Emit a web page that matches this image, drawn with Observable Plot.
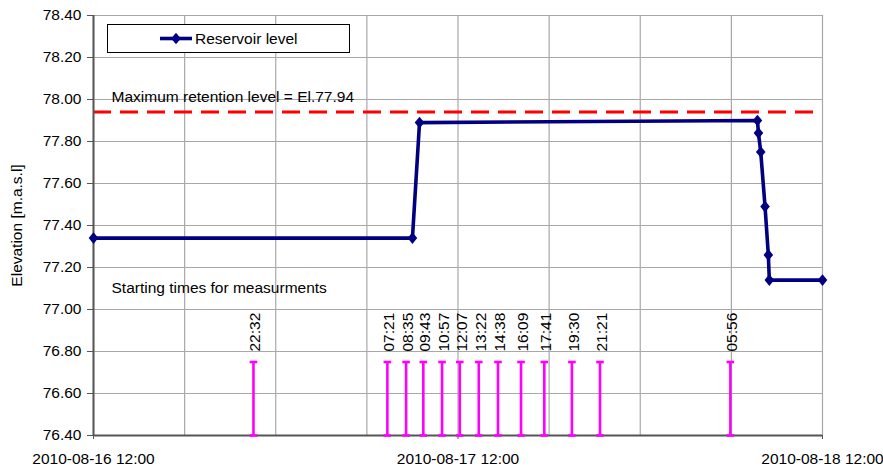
<!DOCTYPE html>
<html><head><meta charset="utf-8">
<script src="https://cdn.jsdelivr.net/npm/d3@7"></script>
<script src="https://cdn.jsdelivr.net/npm/@observablehq/plot@0.6"></script>
<style>
html,body{margin:0;padding:0;background:#fff;}
#chart{position:relative;width:883px;height:468px;}
</style></head><body><div id="chart"></div>
<script>
// ---- data ----
const levelTimes = ["2010-08-16T12:00","2010-08-17T09:00","2010-08-17T09:28","2010-08-18T07:43","2010-08-18T07:47","2010-08-18T07:56","2010-08-18T08:13","2010-08-18T08:26","2010-08-18T08:30","2010-08-18T12:00"];
const levelValues = [77.34, 77.34, 77.89, 77.90, 77.84, 77.75, 77.49, 77.26, 77.14, 77.14];
const measureTimes = ["2010-08-16T22:32","2010-08-17T07:21","2010-08-17T08:35","2010-08-17T09:43","2010-08-17T10:57","2010-08-17T12:07","2010-08-17T13:22","2010-08-17T14:38","2010-08-17T16:09","2010-08-17T17:41","2010-08-17T19:30","2010-08-17T21:21","2010-08-18T05:56"];
const measureLabels = ["22:32","07:21","08:35","09:43","10:57","12:07","13:22","14:38","16:09","17:41","19:30","21:21","05:56"];
const measureBase = 76.40;
const measureTop = 76.75;
const measureLabelY = 76.80;
const maxRetention = 77.94;
const maxRetentionText = "Maximum retention level = El.77.94";
const startTimesText = "Starting times for measurments";
const seriesName = "Reservoir level";
const yLabel = "Elevation [m.a.s.l]";
const yTicks = [76.40, 76.60, 76.80, 77.00, 77.20, 77.40, 77.60, 77.80, 78.00, 78.20, 78.40];
const xLabelTicks = ["2010-08-16T12:00","2010-08-17T12:00","2010-08-18T12:00"];
const xGridTicks = ["2010-08-16T12:00","2010-08-16T18:00","2010-08-17T00:00","2010-08-17T06:00","2010-08-17T12:00","2010-08-17T18:00","2010-08-18T00:00","2010-08-18T06:00","2010-08-18T12:00"];

const parse = s => new Date(s + ":00Z");
const level = levelTimes.map((t, i) => ({t: parse(t), v: levelValues[i]}));
const measures = measureTimes.map((t, i) => ({t: parse(t), label: measureLabels[i]}));
const x0 = parse(xLabelTicks[0]);
const x1 = parse(xLabelTicks[xLabelTicks.length - 1]);
const annotations = [
  {t: x0, v: 78.01, label: maxRetentionText},
  {t: x0, v: 77.10, label: startTimesText}
];

const NAVY = "#000080";
const MAGENTA = "#ff00ff";
const FONT = "'Liberation Sans', Arial, Helvetica, sans-serif";
const FS = 15.5;

const diamond = {draw(ctx) { const w = 4.8, h = 5.8; ctx.moveTo(0, -h); ctx.lineTo(w, 0); ctx.lineTo(0, h); ctx.lineTo(-w, 0); ctx.closePath(); }};
const cap = {draw(ctx) { ctx.moveTo(-3.8, 0); ctx.lineTo(3.8, 0); }};

const chart = Plot.plot({
  width: 883, height: 468,
  marginLeft: 93, marginRight: 61, marginTop: 15, marginBottom: 33,
  style: {fontFamily: FONT, fontSize: FS + "px", color: "#000", background: "#fff"},
  x: {type: "utc", domain: [x0, x1]},
  y: {domain: [yTicks[0], yTicks[yTicks.length - 1]]},
  marks: [
    Plot.gridX(xGridTicks.map(parse), {stroke: "#a8a8a8", strokeOpacity: 1, strokeWidth: 1.2}),
    Plot.gridY(yTicks, {stroke: "#a8a8a8", strokeOpacity: 1, strokeWidth: 1.2}),
    Plot.text(annotations, {x: "t", y: "v", text: "label", textAnchor: "start", lineAnchor: "middle", dx: 18, fontSize: FS, ariaLabel: "annotation"}),
    Plot.ruleY([maxRetention], {stroke: "#ff0000", strokeWidth: 3, strokeDasharray: "18,9"}),
    Plot.axisY(yTicks, {tickFormat: d => d.toFixed(2), tickSize: 6, tickPadding: 6, label: null, fontSize: FS, stroke: "#555"}),
    Plot.axisX(xLabelTicks.map(parse), {tickFormat: d3.utcFormat("%Y-%m-%d %H:%M"), tickSize: 4, tickPadding: 13, label: null, fontSize: FS, stroke: "#555"}),
    Plot.ruleX([x0], {stroke: "#555", strokeWidth: 2}),
    Plot.ruleY([yTicks[0]], {stroke: "#555", strokeWidth: 2}),
    Plot.text([yLabel], {frameAnchor: "left", rotate: -90, dx: -76, textAnchor: "middle", lineAnchor: "middle", fontSize: FS}),
    Plot.ruleX(measures, {x: "t", y1: measureBase, y2: measureTop, stroke: MAGENTA, strokeWidth: 2.6}),
    Plot.dot(measures, {x: "t", y: () => measureBase, symbol: cap, stroke: MAGENTA, strokeWidth: 2.6, fill: "none", r: 3}),
    Plot.dot(measures, {x: "t", y: () => measureTop, symbol: cap, stroke: MAGENTA, strokeWidth: 2.6, fill: "none", r: 3}),
    Plot.text(measures, {x: "t", y: () => measureLabelY, text: "label", rotate: -90, textAnchor: "start", lineAnchor: "middle", dx: 2, fontSize: FS}),
    Plot.line(level, {x: "t", y: "v", stroke: NAVY, strokeWidth: 3.6}),
    Plot.dot(level, {x: "t", y: "v", symbol: diamond, fill: NAVY, stroke: "none", r: 5})
  ]
});
document.getElementById("chart").appendChild(chart);

// white boxes behind the annotation texts
const svg = d3.select(chart);
svg.selectAll('g[aria-label="annotation"] text').each(function () {
  const b = this.getBBox();
  const tr = this.getAttribute("transform");
  d3.select(this.parentNode).insert("rect", () => this)
    .attr("transform", tr)
    .attr("x", b.x - 7).attr("y", b.y - 4)
    .attr("width", 265).attr("height", b.height + 8)
    .attr("fill", "#fff");
});

// legend box inside the plot area
const lg = svg.append("g").attr("font-family", FONT).attr("text-anchor", "start");
lg.append("rect").attr("x", 107.5).attr("y", 24.5).attr("width", 242).attr("height", 28)
  .attr("fill", "#fff").attr("stroke", "#000").attr("stroke-width", 1);
lg.append("line").attr("x1", 160).attr("x2", 192).attr("y1", 38.5).attr("y2", 38.5)
  .attr("stroke", NAVY).attr("stroke-width", 3.6);
lg.append("path").attr("d", "M176,32.7L180.8,38.5L176,44.3L171.2,38.5Z").attr("fill", NAVY);
lg.append("text").attr("x", 195).attr("y", 38.5).attr("dy", "0.35em").attr("font-size", FS).attr("fill", "#000").attr("text-anchor", "start").text(seriesName);
</script>
</body></html>
